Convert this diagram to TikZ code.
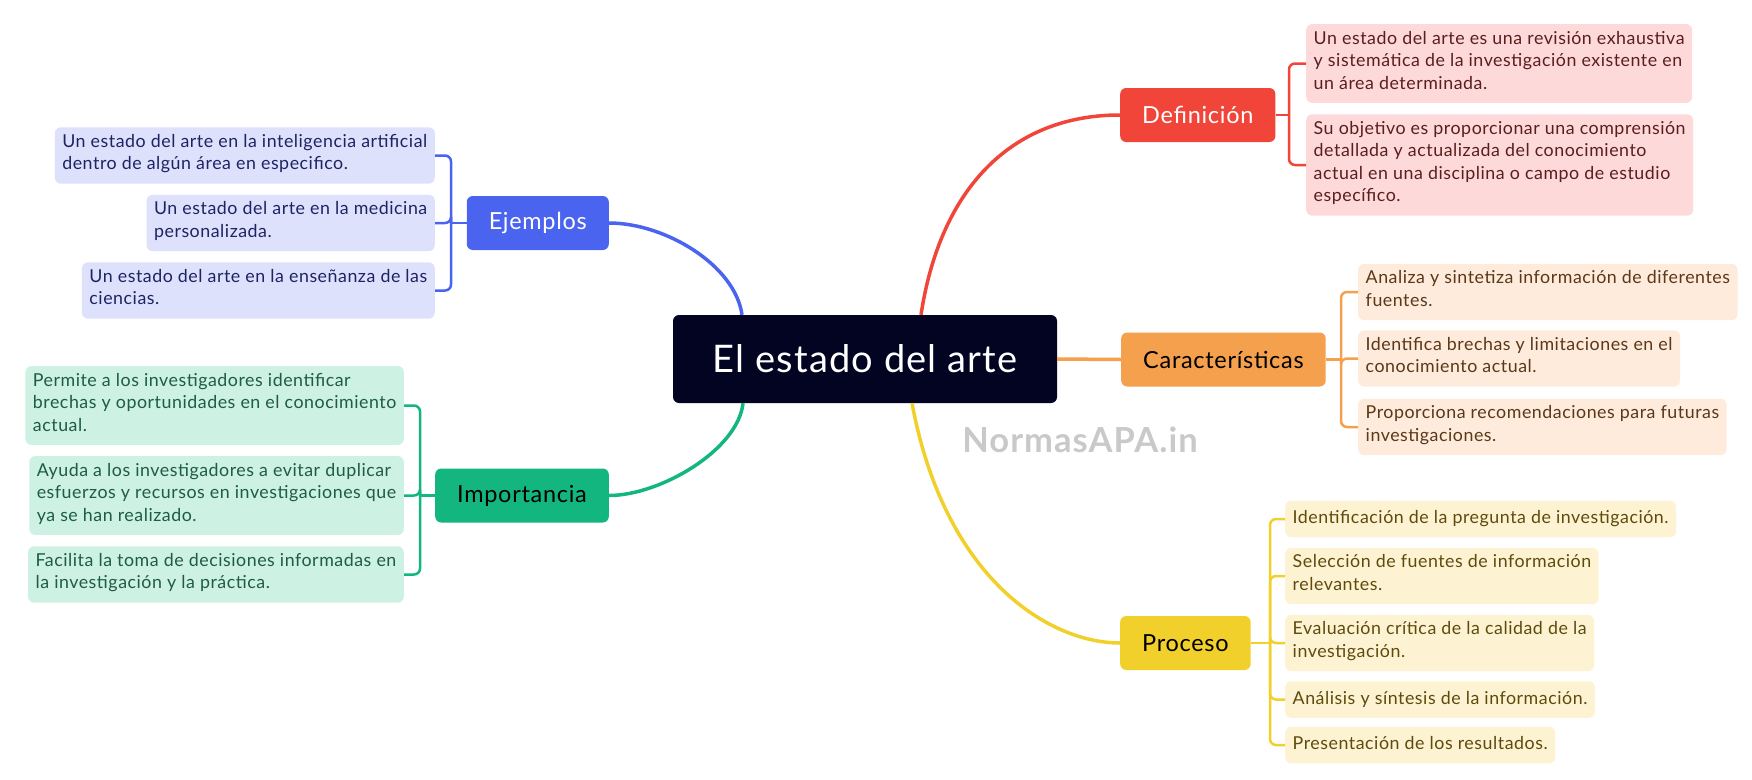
\documentclass[tikz,border=0pt]{standalone}
\usepackage{fontspec}
\setmainfont{Lato}[LetterSpace=3]
\usetikzlibrary{positioning,calc}
\definecolor{raiz}{HTML}{030322}
\definecolor{rojo}{HTML}{F2453A}
\definecolor{rojoH}{HTML}{FDDAD9}
\definecolor{rojoT}{HTML}{5B1E1E}
\definecolor{naranja}{HTML}{F5A04D}
\definecolor{naranjaH}{HTML}{FEEBDC}
\definecolor{naranjaT}{HTML}{5A3818}
\definecolor{amarillo}{HTML}{F2D02C}
\definecolor{amarilloH}{HTML}{FDF3D3}
\definecolor{amarilloT}{HTML}{5E4B0C}
\definecolor{azul}{HTML}{4A64F0}
\definecolor{azulH}{HTML}{DDE1FC}
\definecolor{azulT}{HTML}{1E2463}
\definecolor{verde}{HTML}{12B67E}
\definecolor{verdeH}{HTML}{CDF1E2}
\definecolor{verdeT}{HTML}{1E5C44}
\definecolor{gris}{HTML}{C9C9C9}

\begin{document}
\begin{tikzpicture}[x=1pt,y=-1pt,% one unit is one pixel of the map, y goes down
			every node/.style={
				align=left,  		% so that "\\" breaks the lines
				rounded corners=6pt
			},
			raizbox/.style={fill=raiz,text=white,minimum width=384pt,minimum height=88pt,
				font=\fontsize{38}{42}\selectfont},
			rama/.style={inner xsep=22pt,minimum height=54pt,font=\fontsize{23.5}{26}\selectfont},
			hoja/.style={inner xsep=7.5pt,inner ysep=7pt,font=\fontsize{17.8}{22.5}\selectfont,
				execute at begin node=\strut,execute at end node=\strut},
			curva/.style={line width=3.5pt},
			llave/.style={line width=2.5pt,rounded corners=6pt}
		]
		\useasboundingbox (0,0) rectangle (1752,779);
		% centre and main branches
		\node[raizbox](arte) at (865,359) {El estado del arte};
		\node[rama,fill=rojo,text=white,anchor=west](def) at (1120,115) {Definición};
		\node[rama,fill=naranja,text=black,anchor=west](car) at (1121,359.5) {Características};
		\node[rama,fill=amarillo,text=black,anchor=west](pro) at (1120,643) {Proceso};
		\node[rama,fill=azul,text=white,anchor=east](eje) at (609,223) {Ejemplos};
		\node[rama,fill=verde,text=black,anchor=east](imp) at (609,495.5) {Importancia};
		\node[text=gris,font=\fontsize{34.5}{35}\selectfont\bfseries](marca) at (1080,440) {NormasAPA.in};

		% leaves
		\node[hoja,fill=rojoH,text=rojoT,anchor=west](d1) at (1306,63.5) {Un estado del arte es una revisión exhaustiva\\y sistemática de la investigación existente en\\un área determinada.};
		\node[hoja,fill=rojoH,text=rojoT,anchor=west](d2) at (1306,165) {Su objetivo es proporcionar una comprensión\\detallada y actualizada del conocimiento\\actual en una disciplina o campo de estudio\\específico.};
		\node[hoja,fill=naranjaH,text=naranjaT,anchor=west](c1) at (1358,292) {Analiza y sintetiza información de diferentes\\fuentes.};
		\node[hoja,fill=naranjaH,text=naranjaT,anchor=west](c2) at (1358,358.5) {Identifica brechas y limitaciones en el\\conocimiento actual.};
		\node[hoja,fill=naranjaH,text=naranjaT,anchor=west](c3) at (1358,427) {Proporciona recomendaciones para futuras\\investigaciones.};
		\node[hoja,fill=amarilloH,text=amarilloT,anchor=west](p1) at (1285,519) {Identificación de la pregunta de investigación.};
		\node[hoja,fill=amarilloH,text=amarilloT,anchor=west](p2) at (1285,576) {Selección de fuentes de información\\relevantes.};
		\node[hoja,fill=amarilloH,text=amarilloT,anchor=west](p3) at (1285,643) {Evaluación crítica de la calidad de la\\investigación.};
		\node[hoja,fill=amarilloH,text=amarilloT,anchor=west](p4) at (1285,699.5) {Análisis y síntesis de la información.};
		\node[hoja,fill=amarilloH,text=amarilloT,anchor=west](p5) at (1285,745) {Presentación de los resultados.};
		\node[hoja,fill=azulH,text=azulT,anchor=east](e1) at (435,155.5) {Un estado del arte en la inteligencia artificial\\dentro de algún área en especifico.};
		\node[hoja,fill=azulH,text=azulT,anchor=east](e2) at (435,223) {Un estado del arte en la medicina\\personalizada.};
		\node[hoja,fill=azulH,text=azulT,anchor=east](e3) at (435,290.5) {Un estado del arte en la enseñanza de las\\ciencias.};
		\node[hoja,fill=verdeH,text=verdeT,anchor=east](i1) at (404,405.5) {Permite a los investigadores identificar\\brechas y oportunidades en el conocimiento\\actual.};
		\node[hoja,fill=verdeH,text=verdeT,anchor=east](i2) at (404,495.5) {Ayuda a los investigadores a evitar duplicar\\esfuerzos y recursos en investigaciones que\\ya se han realizado.};
		\node[hoja,fill=verdeH,text=verdeT,anchor=east](i3) at (404,574.5) {Facilita la toma de decisiones informadas en\\la investigación y la práctica.};

		% main connectors
		\draw[curva,draw=rojo] ([xshift=56pt]arte.north) .. controls (940,190) and (1010,115) .. (def.west);
		\draw[curva,draw=naranja] (arte.east) -- (car.west);
		\draw[curva,draw=amarillo] ([xshift=47pt]arte.south) .. controls (945,580) and (1050,643) .. (pro.west);
		\draw[curva,draw=azul] ([xshift=-123pt]arte.north) .. controls (735,265) and (665,223) .. (eje.east);
		\draw[curva,draw=verde] ([xshift=-122pt]arte.south) .. controls (738,450) and (660,495.5) .. (imp.east);

		% brackets
		\coordinate (kd) at (1289,115);
		\coordinate (kc) at (1341,359.5);
		\coordinate (kp) at (1270,643);
		\coordinate (ke) at (451,223);
		\coordinate (ki) at (420,495.5);
		\draw[llave,draw=rojo] (def.east) -- (kd);
		\foreach \h in {d1,d2} \draw[llave,draw=rojo] (kd) |- (\h.west);
		\draw[llave,draw=naranja] (car.east) -- (kc);
		\foreach \h in {c1,c2,c3} \draw[llave,draw=naranja] (kc) |- (\h.west);
		\draw[llave,draw=amarillo] (pro.east) -- (kp);
		\foreach \h in {p1,p2,p3,p4,p5} \draw[llave,draw=amarillo] (kp) |- (\h.west);
		\draw[llave,draw=azul] (eje.west) -- (ke);
		\foreach \h in {e1,e2,e3} \draw[llave,draw=azul] (ke) |- (\h.east);
		\draw[llave,draw=verde] (imp.west) -- (ki);
		\foreach \h in {i1,i2,i3} \draw[llave,draw=verde] (ki) |- (\h.east);
	\end{tikzpicture}
\end{document}
